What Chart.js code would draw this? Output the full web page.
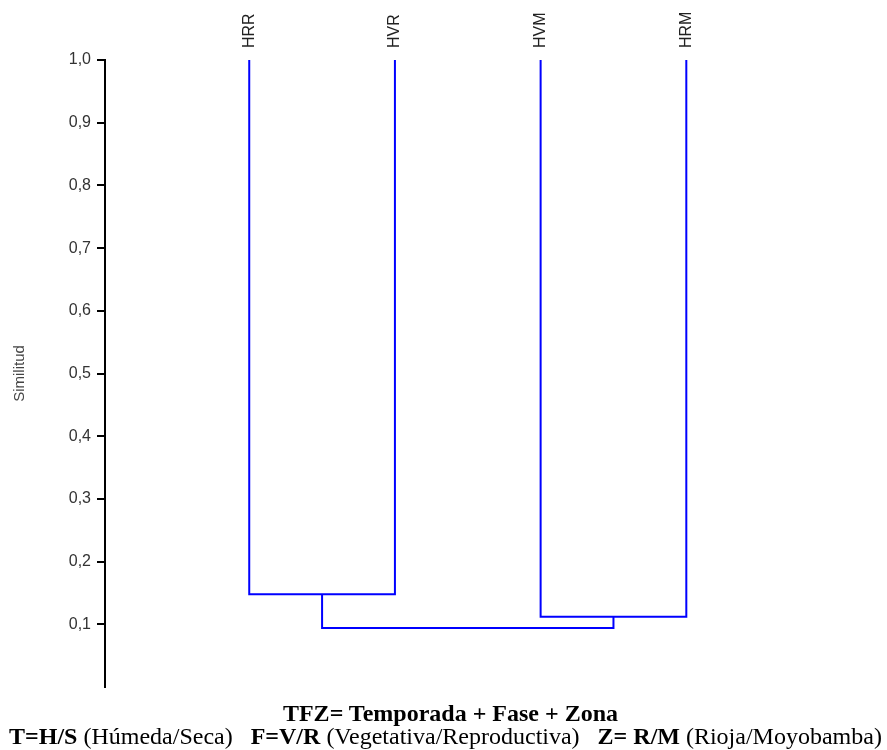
<!DOCTYPE html>
<html>
<head>
<meta charset="utf-8">
<script src="https://cdn.jsdelivr.net/npm/chart.js@4.4.0/dist/chart.umd.min.js"></script>
<style>
  html, body { margin: 0; padding: 0; background: #fff; }
  #wrap { position: relative; width: 887px; height: 750px; }
  canvas { position: absolute; left: 0; top: 0; }
  .cap { position: absolute; left: 0; width: 887px; text-align: center; font-family: "Liberation Serif", "Times New Roman", serif; color: #000; white-space: pre; font-size: 24px; line-height: 24px; }
  #l1 { top: 701px; left: 7px; font-weight: bold; }
  #l2 { top: 724px; left: 2px; }
  b { font-weight: bold; }
</style>
</head>
<body>
<div id="wrap">
  <canvas id="c" width="887" height="750"></canvas>
  <div class="cap" id="l1">TFZ= Temporada + Fase + Zona</div>
  <div class="cap" id="l2"><b>T=H/S</b> (Húmeda/Seca)   <b>F=V/R</b> (Vegetativa/Reproductiva)   <b>Z= R/M</b> (Rioja/Moyobamba)</div>
</div>
<script>
// Leaves (top labels) in dendrogram order
const leaves = ['HRR', 'HVR', 'HVM', 'HRM'];
// Merges: left child position, right child position, child tops, merge height
const mergeLeftX   = [0, 2, 0.5];
const mergeRightX  = [1, 3, 2.5];
const mergeLeftTop = [1.0, 1.0, 0.148];
const mergeRightTop= [1.0, 1.0, 0.112];
const mergeHeight  = [0.148, 0.112, 0.094];
// Y tick values
const yTicks = [0.1, 0.2, 0.3, 0.4, 0.5, 0.6, 0.7, 0.8, 0.9, 1.0];

const datasets = mergeHeight.map((h, i) => ({
  data: [
    { x: mergeLeftX[i],  y: mergeLeftTop[i] },
    { x: mergeLeftX[i],  y: h },
    { x: mergeRightX[i], y: h },
    { x: mergeRightX[i], y: mergeRightTop[i] }
  ],
  showLine: true,
  borderColor: '#0000ff',
  borderWidth: 2,
  pointRadius: 0,
  fill: false,
  tension: 0
}));

const leafLabels = {
  id: 'leafLabels',
  afterDraw(chart) {
    const ctx = chart.ctx;
    const xs = chart.scales.x;
    ctx.save();
    ctx.font = '16px "Liberation Sans", Arial, sans-serif';
    ctx.fillStyle = '#222';
    ctx.textAlign = 'left';
    ctx.textBaseline = 'middle';
    leaves.forEach((name, i) => {
      const px = xs.getPixelForValue(i);
      ctx.save();
      ctx.translate(px, chart.chartArea.top - 12);
      ctx.rotate(-Math.PI / 2);
      ctx.fillText(name, 0, 0);
      ctx.restore();
    });
    ctx.restore();
  }
};

new Chart(document.getElementById('c'), {
  type: 'scatter',
  data: { datasets },
  plugins: [leafLabels],
  options: {
    responsive: false,
    animation: false,
    events: [],
    layout: { padding: { left: 0, right: 55, top: 0, bottom: 63 } },
    plugins: { legend: { display: false }, tooltip: { enabled: false } },
    scales: {
      x: {
        type: 'linear',
        position: 'top',
        min: -0.99,
        max: 4,
        afterBuildTicks: s => { s.ticks = leaves.map((_, i) => ({ value: i })); },
        afterFit: s => { s.height = 60; },
        grid: { display: false, drawTicks: false, tickLength: 0 },
        border: { display: false },
        ticks: { display: false }
      },
      y: {
        type: 'linear',
        min: 0,
        max: 1,
        afterBuildTicks: s => { s.ticks = yTicks.map(v => ({ value: v })); },
        afterFit: s => { s.width = 105; },
        grid: { drawOnChartArea: false, drawTicks: true, tickLength: 8, color: '#000', lineWidth: 2 },
        border: { display: true, color: '#000', width: 2 },
        ticks: {
          padding: 6,
          color: '#333',
          font: { family: 'Liberation Sans, Arial, sans-serif', size: 16 },
          callback: v => v.toFixed(1).replace('.', ',')
        },
        title: {
          display: true,
          text: 'Similitud',
          color: '#444',
          font: { family: 'Liberation Sans, Arial, sans-serif', size: 15 },
          padding: { top: 11, bottom: 0 }
        }
      }
    }
  }
});
</script>
</body>
</html>
